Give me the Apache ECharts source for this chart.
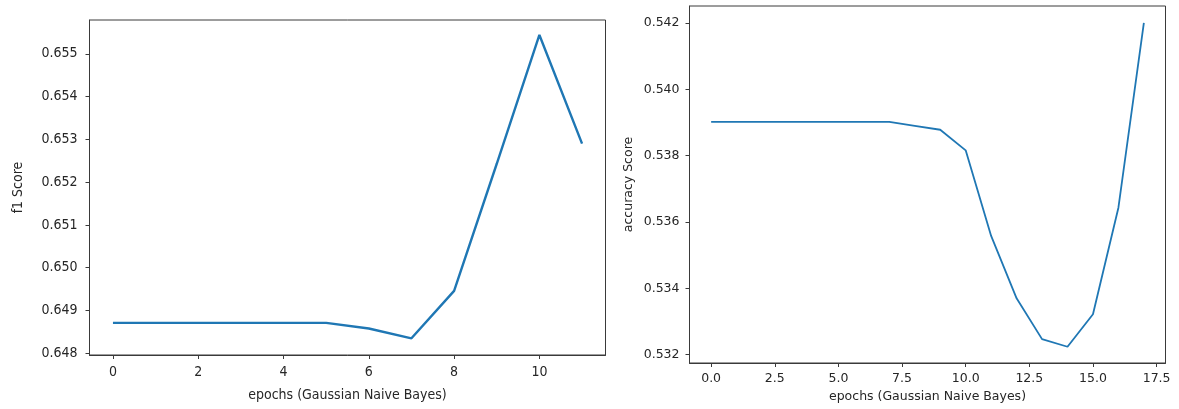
<!DOCTYPE html>
<html>
<head>
<meta charset="utf-8">
<script src="https://cdn.jsdelivr.net/npm/echarts@6/dist/echarts.min.js"></script>
<style>
html,body{margin:0;padding:0;background:#fff;}
#chart{width:1179px;height:409px;}
</style>
</head>
<body>
<div id="chart"></div>
<script>
// ---- data ----
const f1Epochs = [0,1,2,3,4,5,6,7,8,9,10,11];
const f1Scores = [0.64871,0.64871,0.64871,0.64871,0.64871,0.64871,0.64858,0.64835,0.64946,0.65243,0.65544,0.65290];
const accEpochs = [0,1,2,3,4,5,6,7,8,9,10,11,12,13,14,15,16,17];
const accScores = [0.53902,0.53902,0.53902,0.53902,0.53902,0.53902,0.53902,0.53902,0.53890,0.53878,0.53816,0.53558,0.53370,0.53247,0.53224,0.53322,0.53643,0.54200];
const f1XTicks = [0,2,4,6,8,10];
const f1YTicks = [0.648,0.649,0.650,0.651,0.652,0.653,0.654,0.655];
const accXTicks = [0,2.5,5,7.5,10,12.5,15,17.5];
const accYTicks = [0.532,0.534,0.536,0.538,0.540,0.542];
const xName = 'epochs (Gaussian Naive Bayes)';
const f1Name = 'f1 Score';
const accName = 'accuracy Score';

const frame = '#3a3a3a';
const txt = '#262626';
const blue = '#1f77b4';
const leftFont = {fontFamily:'DejaVu Sans Condensed, DejaVu Sans', fontSize:14, color:txt};
const rightFont = {fontFamily:'DejaVu Sans', fontSize:12.5, color:txt};

function xAxisCfg(gi, min, max, ticks, fmt, font, labelMargin, nameGap){
  return {
    gridIndex: gi, type:'value', min:min, max:max,
    name: xName, nameLocation:'middle', nameGap:nameGap,
    nameTextStyle: Object.assign({}, font),
    axisLine:{show:true, onZero:false, lineStyle:{color:frame, width:1}},
    axisTick:{show:true, inside:false, length:4, lineStyle:{color:frame}, customValues:ticks},
    axisLabel:{show:true, margin:labelMargin, customValues:ticks, formatter:fmt,
      fontFamily:font.fontFamily, fontSize:font.fontSize, color:font.color},
    splitLine:{show:false}
  };
}
function yAxisCfg(gi, min, max, ticks, name, font, labelMargin, nameGap){
  return {
    gridIndex: gi, type:'value', min:min, max:max, scale:true,
    name: name, nameLocation:'middle', nameGap:nameGap, nameRotate:90,
    nameTextStyle: Object.assign({}, font),
    axisLine:{show:true, onZero:false, lineStyle:{color:frame, width:1}},
    axisTick:{show:true, inside:false, length:4, lineStyle:{color:frame}, customValues:ticks},
    axisLabel:{show:true, margin:labelMargin, customValues:ticks, formatter:v=>v.toFixed(3),
      fontFamily:font.fontFamily, fontSize:font.fontSize, color:font.color},
    splitLine:{show:false}
  };
}

const chart = echarts.init(document.getElementById('chart'), null, {renderer:'canvas'});
chart.setOption({
  backgroundColor:'#fff',
  animation:false,
  grid:[
    {left:89.5, top:20, width:516, height:335, show:true, borderColor:frame, borderWidth:1, backgroundColor:'#fff'},
    {left:689.5, top:6, width:476, height:357, show:true, borderColor:frame, borderWidth:1, backgroundColor:'#fff'}
  ],
  xAxis:[
    xAxisCfg(0, -0.55, 11.55, f1XTicks, v=>String(Math.round(v)), leftFont, 10, 33),
    xAxisCfg(1, -0.85, 17.85, accXTicks, v=>v.toFixed(1), rightFont, 9, 27)
  ],
  yAxis:[
    yAxisCfg(0, 0.64796, 0.65579, f1YTicks, f1Name, leftFont, 12, 64),
    yAxisCfg(1, 0.53175, 0.54251, accYTicks, accName, rightFont, 10, 54)
  ],
  series:[
    {type:'line', xAxisIndex:0, yAxisIndex:0, showSymbol:false, symbol:'none',
     lineStyle:{color:blue, width:2.4}, data:f1Epochs.map((e,i)=>[e,f1Scores[i]])},
    {type:'line', xAxisIndex:1, yAxisIndex:1, showSymbol:false, symbol:'none',
     lineStyle:{color:blue, width:1.8}, data:accEpochs.map((e,i)=>[e,accScores[i]])}
  ]
});
</script>
</body>
</html>
